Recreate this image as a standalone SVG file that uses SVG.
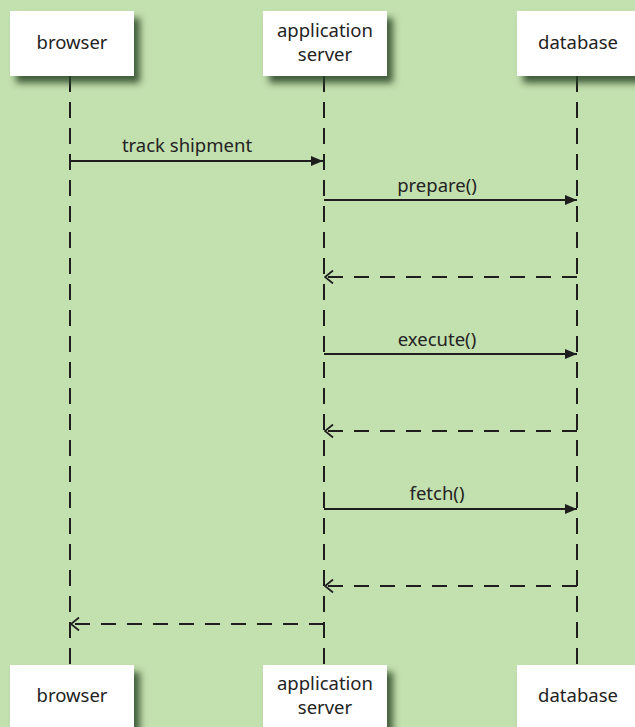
<svg xmlns="http://www.w3.org/2000/svg" width="635" height="727" viewBox="0 0 635 727">
<style>
.bg{fill:#c3e0af}
.box{fill:#ffffff;filter:url(#sh)}
.t{font-family:"Noto Sans","Open Sans",sans-serif;font-size:18.5px;fill:#232323;text-anchor:middle}
.life{stroke:#1e1e1e;stroke-width:2;stroke-dasharray:16 10;fill:none}
.msg{stroke:#1e1e1e;stroke-width:1.8;fill:none;marker-end:url(#fill)}
.ret{stroke:#1e1e1e;stroke-width:1.8;fill:none;stroke-dasharray:15 11;marker-end:url(#open)}
</style>
<defs>
<filter id="sh" x="-20%" y="-20%" width="150%" height="160%">
<feDropShadow dx="6" dy="7" stdDeviation="3.5" flood-color="#2c4526" flood-opacity="0.85"/>
</filter>
<marker id="fill" viewBox="0 0 12 10" refX="12" refY="5" markerWidth="12" markerHeight="10" markerUnits="userSpaceOnUse" orient="auto">
<path d="M0,0 L12,5 L0,10 Z" fill="#1e1e1e"/>
</marker>
<marker id="open" viewBox="0 0 10 14" refX="9" refY="7" markerWidth="10" markerHeight="14" markerUnits="userSpaceOnUse" orient="auto">
<path d="M1,0.5 L9,7 L1,13.5" fill="none" stroke="#1e1e1e" stroke-width="1.8"/>
</marker>
</defs>
<rect class="bg" x="0" y="0" width="635" height="727"/>
<g id="lifelines">
<line class="life" x1="70" y1="76" x2="70" y2="665"/>
<line class="life" x1="324" y1="76" x2="324" y2="665"/>
<line class="life" x1="577" y1="76" x2="577" y2="665"/>
</g>
<g id="connectors">
<line class="msg" x1="70" y1="161" x2="323" y2="161"/>
<text class="t" x="187" y="152">track shipment</text>
<line class="msg" x1="324" y1="200" x2="577" y2="200"/>
<text class="t" x="437" y="192">prepare()</text>
<line class="ret" x1="577" y1="277" x2="325" y2="277"/>
<line class="msg" x1="324" y1="354" x2="577" y2="354"/>
<text class="t" x="437" y="346">execute()</text>
<line class="ret" x1="577" y1="431" x2="325" y2="431"/>
<line class="msg" x1="324" y1="509" x2="577" y2="509"/>
<text class="t" x="437" y="500">fetch()</text>
<line class="ret" x1="577" y1="586" x2="325" y2="586"/>
<line class="ret" x1="324" y1="624" x2="71" y2="624"/>
</g>
<g id="browser-top">
<rect class="box" x="10" y="11" width="124" height="65"/>
<text class="t" x="72" y="49">browser</text>
</g>
<g id="server-top">
<rect class="box" x="263" y="11" width="124" height="65"/>
<text class="t" x="325" y="37">application</text>
<text class="t" x="325" y="61">server</text>
</g>
<g id="database-top">
<rect class="box" x="517" y="11" width="124" height="65"/>
<text class="t" x="578" y="49">database</text>
</g>
<g id="browser-bottom">
<rect class="box" x="10" y="665" width="124" height="65"/>
<text class="t" x="72" y="702">browser</text>
</g>
<g id="server-bottom">
<rect class="box" x="263" y="665" width="124" height="65"/>
<text class="t" x="325" y="690">application</text>
<text class="t" x="325" y="714">server</text>
</g>
<g id="database-bottom">
<rect class="box" x="517" y="665" width="124" height="65"/>
<text class="t" x="578" y="702">database</text>
</g>
</svg>
